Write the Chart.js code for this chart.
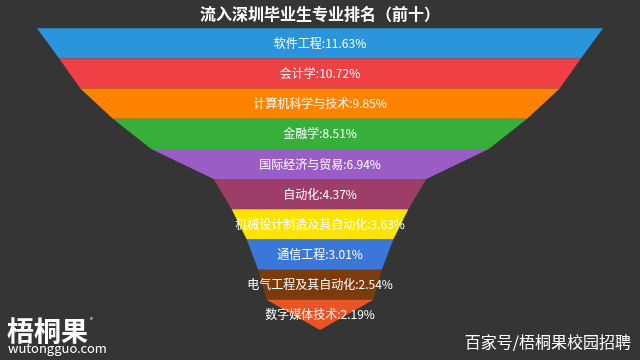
<!DOCTYPE html>
<html><head><meta charset="utf-8">
<script src="https://cdn.jsdelivr.net/npm/chart.js@4/dist/chart.umd.min.js"></script>
<style>html,body{margin:0;padding:0;background:#353535;overflow:hidden}#wrap{position:relative;width:640px;height:360px}</style>
</head><body><div id="wrap"><canvas id="c" width="640" height="360"></canvas></div>
<script>
const titleText = '流入深圳毕业生专业排名（前十）';
const categories = ['软件工程','会计学','计算机科学与技术','金融学','国际经济与贸易','自动化','机械设计制造及其自动化','通信工程','电气工程及其自动化','数字媒体技术'];
const values = [11.63,10.72,9.85,8.51,6.94,4.37,3.63,3.01,2.54,2.19];
const colors = ['#2b95dc','#ee4045','#ff8300','#36b03a','#9a5dc6','#9c3e68','#fce300','#3a77d9','#7b3b0c','#ea5528'];
const FONT = '"Noto Sans CJK SC","Noto Sans",sans-serif';

const funnelPlugin = {
  id: 'funnel',
  beforeDatasetsDraw(chart) {
    const ctx = chart.ctx, x = chart.scales.x;
    const meta = chart.getDatasetMeta(0);
    meta.data.forEach((bar, i) => {
      const p = bar.getProps(['y', 'height'], true);
      const top = p.y - p.height / 2, bot = p.y + p.height / 2;
      const vt = values[i], vb = i + 1 < values.length ? values[i + 1] : 0;
      ctx.save();
      ctx.beginPath();
      ctx.moveTo(x.getPixelForValue(-vt / 2), top);
      ctx.lineTo(x.getPixelForValue(vt / 2), top);
      ctx.lineTo(x.getPixelForValue(vb / 2), bot);
      ctx.lineTo(x.getPixelForValue(-vb / 2), bot);
      ctx.closePath();
      ctx.fillStyle = colors[i];
      ctx.fill();
      ctx.restore();
    });
  },
  afterDatasetsDraw(chart) {
    const ctx = chart.ctx, x = chart.scales.x;
    const meta = chart.getDatasetMeta(0);
    ctx.save();
    ctx.font = '12px ' + FONT;
    ctx.fillStyle = '#ffffff';
    ctx.textAlign = 'center';
    ctx.textBaseline = 'middle';
    meta.data.forEach((bar, i) => {
      const p = bar.getProps(['y'], true);
      ctx.fillText(categories[i] + ':' + values[i].toFixed(2) + '%', x.getPixelForValue(0), p.y);
    });
    ctx.restore();
  },
  afterDraw(chart) {
    const ctx = chart.ctx;
    ctx.save();
    ctx.fillStyle = '#ffffff';
    ctx.textBaseline = 'alphabetic';
    ctx.textAlign = 'left';
    ctx.font = 'bold 27px ' + FONT;
    ctx.fillText('梧桐果', 7, 341);
    ctx.font = '6px ' + FONT;
    ctx.fillText('®', 90, 322);
    ctx.font = '13px ' + FONT;
    ctx.fillText('wutongguo.com', 8, 353);
    ctx.font = '16px ' + FONT;
    ctx.textAlign = 'right';
    ctx.fillText('百家号/梧桐果校园招聘', 631, 348);
    ctx.restore();
  }
};

new Chart(document.getElementById('c'), {
  type: 'bar',
  data: {
    labels: categories,
    datasets: [{
      data: values.map(v => [-v / 2, v / 2]),
      backgroundColor: 'rgba(0,0,0,0)',
      borderWidth: 0,
      barPercentage: 1,
      categoryPercentage: 1
    }]
  },
  options: {
    indexAxis: 'y',
    responsive: false,
    animation: false,
    layout: { padding: { top: 0, bottom: 30, left: 0, right: 0 } },
    scales: {
      x: { display: false, min: -6.575, max: 6.575 },
      y: { display: false }
    },
    plugins: {
      legend: { display: false },
      tooltip: { enabled: false },
      title: {
        display: true,
        text: titleText,
        color: '#ffffff',
        font: { family: FONT, size: 16, weight: 'bold' },
        padding: { top: 4, bottom: 5 }
      }
    }
  },
  plugins: [funnelPlugin]
});
</script>
</body></html>
